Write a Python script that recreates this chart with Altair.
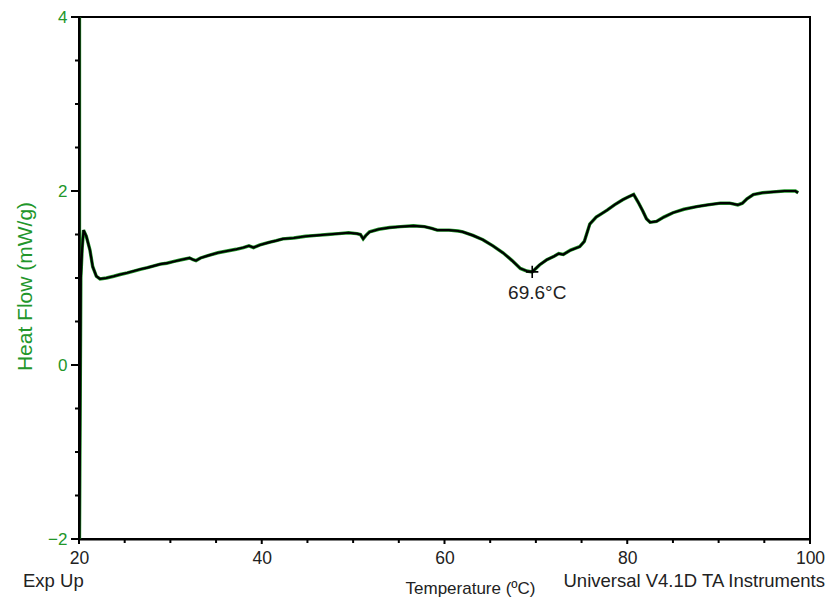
import altair as alt
import pandas as pd

# ---- data ----
temperature = [20.05, 20.05, 20.2, 20.35, 20.5, 20.8, 21.2, 21.5, 21.9, 22.3, 23.0, 23.8, 24.5,
               25.3, 26.0, 26.7, 27.5, 28.2, 28.9, 29.6, 30.4, 31.2, 32.1, 32.5, 32.8,
               33.3, 34.2, 35.2, 36.2, 37.2, 38.0, 38.6, 39.1, 39.8, 40.8, 41.6, 42.3,
               43.5, 44.8, 46.0, 47.2, 48.4, 49.5, 50.4, 50.8, 51.1, 51.4, 51.8, 52.8,
               54.0, 55.2, 56.6, 57.8, 58.6, 59.2, 60.5, 61.5, 62.0, 63.1, 64.2, 65.3,
               66.4, 67.4, 68.3, 69.0, 69.6, 70.4, 71.2, 72.0, 72.5, 73.0, 73.8, 74.8,
               75.3, 75.9, 76.6, 77.2, 77.8, 78.6, 79.5, 80.1, 80.7, 81.2, 81.7, 82.1,
               82.5, 83.2, 84.0, 85.0, 86.2, 87.6, 88.8, 90.2, 91.2, 92.1, 92.6, 93.1,
               93.8, 94.8, 96.0, 97.2, 98.4, 98.7]
heat_flow = [4.0, -2.0, 1.0, 1.35, 1.55, 1.48, 1.32, 1.13, 1.02, 0.99, 1.00, 1.02, 1.04,
             1.06, 1.08, 1.10, 1.12, 1.14, 1.16, 1.17, 1.19, 1.21, 1.23, 1.21, 1.20,
             1.23, 1.26, 1.29, 1.31, 1.33, 1.35, 1.37, 1.35, 1.38, 1.41, 1.43, 1.45,
             1.46, 1.48, 1.49, 1.50, 1.51, 1.52, 1.51, 1.50, 1.45, 1.49, 1.53, 1.56,
             1.58, 1.59, 1.60, 1.59, 1.57, 1.55, 1.55, 1.54, 1.53, 1.49, 1.44, 1.37,
             1.29, 1.20, 1.11, 1.08, 1.07, 1.15, 1.21, 1.25, 1.28, 1.27, 1.32, 1.36,
             1.42, 1.62, 1.70, 1.74, 1.78, 1.84, 1.90, 1.93, 1.96, 1.87, 1.77, 1.68,
             1.64, 1.65, 1.70, 1.75, 1.79, 1.82, 1.84, 1.86, 1.86, 1.84, 1.86, 1.91,
             1.96, 1.98, 1.99, 2.00, 2.00, 1.98]

peak_temp = [69.6]
peak_flow = [1.07]
peak_label = ["69.6°C"]

x_major = [20, 40, 60, 80, 100]
x_minor = [25, 30, 35, 45, 50, 55, 65, 70, 75, 85, 90, 95]
y_major = [-2, 0, 2, 4]
y_minor = [-1.5, -1.0, -0.5, 0.5, 1.0, 1.5, 2.5, 3.0, 3.5]

GREEN = "#22962a"
FONT = "Liberation Sans"
W, H = 731, 522

df = pd.DataFrame({"T": temperature, "HF": heat_flow})
df["idx"] = range(len(df))
peak_df = pd.DataFrame({"T": peak_temp, "HF": peak_flow, "label": peak_label})

x_scale = alt.Scale(domain=[20, 100], nice=False, zero=False)
y_scale = alt.Scale(domain=[-2, 4], nice=False, zero=False)

x_enc = alt.X("T:Q", scale=x_scale,
              axis=alt.Axis(values=x_major, ticks=False, format="d",
                            title="Temperature (ºC)",
                            titleFont=FONT, titleFontSize=17, titleFontWeight="normal",
                            titleColor="#222222",
                            titleX=391, titleY=54, titleBaseline="alphabetic",
                            titleAnchor="middle", titleAlign="center",
                            labelFont=FONT, labelFontSize=17.5, labelColor="#222222",
                            labelPadding=10, labelFlush=False, labelOverlap=False,
                            domainColor="black", domainWidth=2, grid=False))

y_enc = alt.Y("HF:Q", scale=y_scale,
              axis=alt.Axis(values=y_major, ticks=False, format="d",
                            title="Heat Flow (mW/g)",
                            titleFont=FONT, titleFontSize=21, titleFontWeight="normal",
                            titleColor=GREEN, titleAngle=270,
                            titleX=-44, titleY=269, titleBaseline="bottom", titleAlign="center",
                            labelFont=FONT, labelFontSize=17, labelColor=GREEN,
                            labelPadding=12, labelFlush=False, labelOverlap=False,
                            domainColor="black", domainWidth=2.5, grid=False))

under = alt.Chart(df).mark_line(color=GREEN, strokeWidth=3.4, clip=True).encode(
    x=x_enc, y=y_enc, order=alt.Order("idx:Q"))
over = alt.Chart(df).mark_line(color="black", strokeWidth=2.2, clip=True).encode(
    x="T:Q", y="HF:Q", order=alt.Order("idx:Q"))

# axis tick marks drawn from the tick value lists through the shared scales
xmaj = alt.Chart(pd.DataFrame({"v": x_major})).mark_rule(color="black", strokeWidth=2).encode(
    x=alt.X("v:Q", scale=x_scale), y=alt.value(H), y2=alt.value(H + 5))
xmin = alt.Chart(pd.DataFrame({"v": x_minor})).mark_rule(color="black", strokeWidth=2).encode(
    x=alt.X("v:Q", scale=x_scale), y=alt.value(H), y2=alt.value(H + 4))
ymaj = alt.Chart(pd.DataFrame({"v": y_major})).mark_rule(color="black", strokeWidth=2).encode(
    y=alt.Y("v:Q", scale=y_scale), x=alt.value(-8), x2=alt.value(0))
ymin = alt.Chart(pd.DataFrame({"v": y_minor})).mark_rule(color="black", strokeWidth=2).encode(
    y=alt.Y("v:Q", scale=y_scale), x=alt.value(-4), x2=alt.value(0))

marker = alt.Chart(peak_df).mark_point(shape="M-1,0L1,0M0,-1L0,1", size=150,
                                       filled=False, color="black", strokeWidth=1.6,
                                       opacity=1).encode(
    x="T:Q", y="HF:Q")
marker_text = alt.Chart(peak_df).mark_text(font=FONT, fontSize=19, color="#222222",
                                           dy=21, dx=5, baseline="middle").encode(
    x="T:Q", y="HF:Q", text="label:N")

notes = pd.DataFrame({"t": ["Exp Up", "Universal V4.1D TA Instruments"]})
exp_up = alt.Chart(notes.iloc[[0]]).mark_text(font=FONT, fontSize=18.5, color="#222222",
                                             align="left", baseline="alphabetic").encode(
    x=alt.value(-56), y=alt.value(570), text="t:N")
universal = alt.Chart(notes.iloc[[1]]).mark_text(font=FONT, fontSize=18.5, color="#222222",
                                                align="right", baseline="alphabetic").encode(
    x=alt.value(746), y=alt.value(570), text="t:N")

chart = alt.layer(under, over, xmaj, xmin, ymaj, ymin, marker, marker_text,
                  exp_up, universal).properties(
    width=W, height=H,
    autosize=alt.AutoSizeParams(type="none"),
    padding={"left": 79, "top": 17, "right": 17, "bottom": 59},
    background="white",
).configure_view(stroke="black", strokeWidth=2)

chart.save("out.html", embed_options={"renderer": "svg", "actions": False})
